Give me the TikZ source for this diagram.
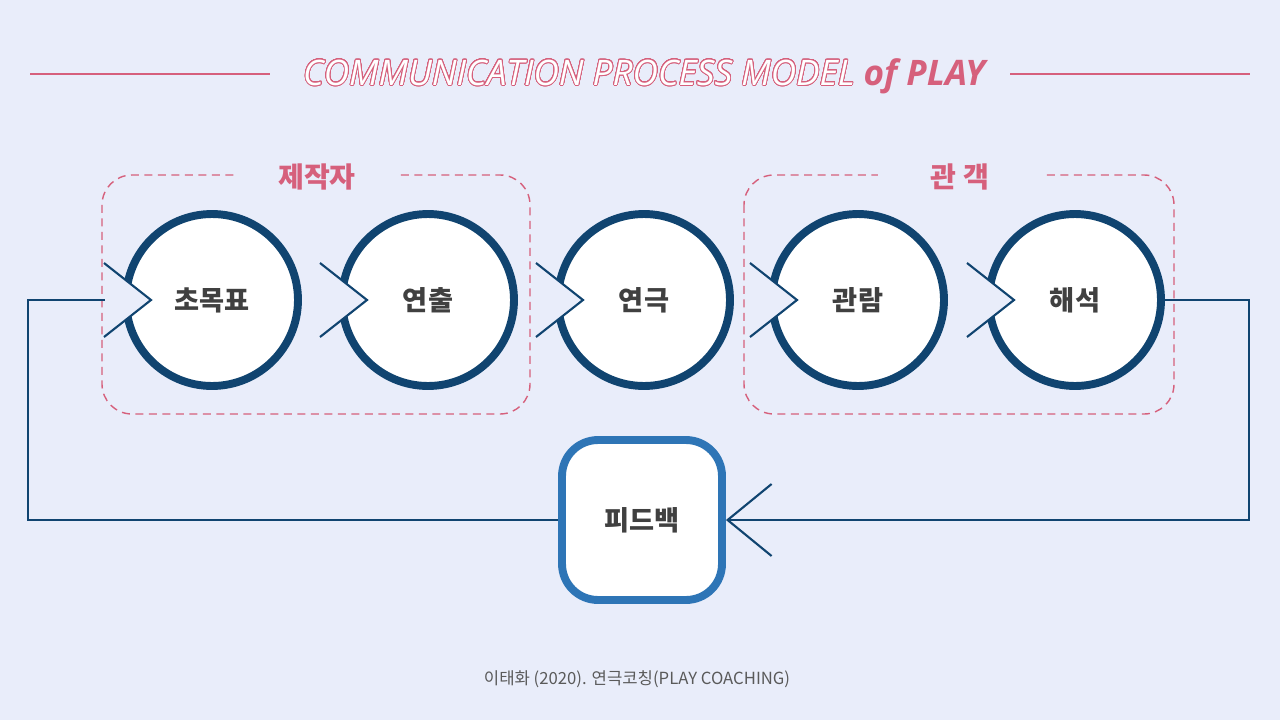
\documentclass[tikz,border=0pt]{standalone}
\usepackage{fontspec}
\usepackage{contour}
\setmainfont{Noto Sans CJK KR}
\newfontfamily\titlefont{Open Sans}
\usetikzlibrary{positioning, arrows.meta, calc}

\definecolor{bgcol}{RGB}{233,237,250}
\definecolor{navy}{RGB}{16,68,112}
\definecolor{fbblue}{RGB}{46,117,182}
\definecolor{rose}{RGB}{214,96,124}
\definecolor{txtgray}{RGB}{64,64,64}
\definecolor{srcgray}{RGB}{90,90,90}

\contourlength{0.45pt}
\contournumber{40}

\begin{document}
\begin{tikzpicture}[
    x=0.02cm, y=-0.02cm,
    stage/.style={circle, draw=navy, fill=white, line width=4.5pt,
                  minimum size=3.44cm, text=txtgray,
                  font=\fontsize{15.5}{18}\selectfont\bfseries},
    fback/.style={rectangle, rounded corners=0.72cm, draw=fbblue, fill=white,
                  line width=4.5pt, minimum size=3.2cm, text=txtgray,
                  font=\fontsize{15.5}{18}\selectfont\bfseries},
    group/.style={draw=rose, line width=0.8pt, dash pattern=on 0.16cm off 0.11cm,
                  rounded corners=0.6cm},
    grouplabel/.style={fill=bgcol, minimum width=3.3cm, text=rose,
                       font=\fontsize{16}{19}\selectfont\bfseries},
    link/.style={draw=navy, line width=1.2pt},
    tip/.style={-{Straight Barb[length=0.88cm, width=1.44cm]}}
  ]

    % Background
    \fill[bgcol] (0,0) rectangle (1280,720);

    % Title with side rules
    \node (title) at (644,76) {\titlefont\itshape\fontsize{20}{24}\selectfont
      \contour{rose}{\color{white}COMMUNICATION PROCESS MODEL}
      {\bfseries\color{rose} of PLAY}};
    \draw[rose, line width=0.8pt] (30,74) -- (270,74);
    \draw[rose, line width=0.8pt] (1010,74) -- (1250,74);

    % Groups (dashed)
    \draw[group] (102,175) rectangle (530,414);
    \draw[group] (744,175) rectangle (1174,414);
    \node[grouplabel] (maker) at (317,177) {제작자};
    \node[grouplabel] (audience) at (960,177) {관 객};

    % Stages
    \node[stage] (goal) at (212,300) {초목표};
    \node[stage] (direct) at (428,300) {연출};
    \node[stage] (play) at (644,300) {연극};
    \node[stage] (watch) at (858,300) {관람};
    \node[stage] (interp) at (1075,300) {해석};

    % Chevrons cut into the stages
    \draw[link, fill=bgcol] ($(goal)+(-108,-37)$) -- ($(goal)+(-61,0)$) -- ($(goal)+(-108,37)$);
    \draw[link, fill=bgcol] ($(direct)+(-108,-37)$) -- ($(direct)+(-61,0)$) -- ($(direct)+(-108,37)$);
    \draw[link, fill=bgcol] ($(play)+(-108,-37)$) -- ($(play)+(-61,0)$) -- ($(play)+(-108,37)$);
    \draw[link, fill=bgcol] ($(watch)+(-108,-37)$) -- ($(watch)+(-61,0)$) -- ($(watch)+(-108,37)$);
    \draw[link, fill=bgcol] ($(interp)+(-108,-37)$) -- ($(interp)+(-61,0)$) -- ($(interp)+(-108,37)$);

    % Feedback
    \node[fback] (feedback) at (642,520) {피드백};
    \coordinate (goalin) at ($(goal)+(-107,0)$);
    \coordinate (loopL) at (28,300);

    % Feedback loop
    \draw[link, tip] (interp.east) -- ++(84,0) |- (feedback.east);
    \draw[link] (feedback.west) -| (loopL) -- (goalin);

    % Source
    \node[text=srcgray, font=\fontsize{9.5}{11}\selectfont] (source) at (637,679)
      {이태화 (2020). 연극코칭(PLAY COACHING)};

  \end{tikzpicture}
\end{document}
